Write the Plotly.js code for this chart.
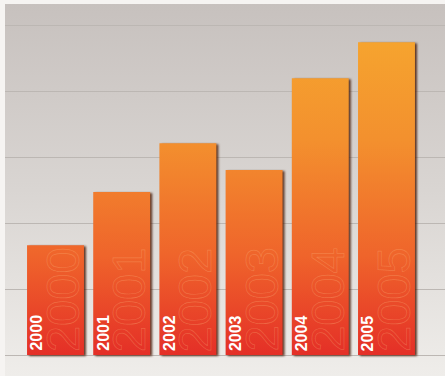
<!DOCTYPE html>
<html>
<head>
<meta charset="utf-8">
<script src="https://cdn.plot.ly/plotly-3.0.1.min.js"></script>
<style>
html,body{margin:0;padding:0;background:#f6f4f2;}
#chart{width:445px;height:376px;}
</style>
</head>
<body>
<div id="chart"></div>
<script>
var years = ["2000", "2001", "2002", "2003", "2004", "2005"];
var values = [33.3, 49.4, 64.2, 56.1, 83.9, 94.8];
var yTicks = [0, 20, 40, 60, 80, 100];

var xIdx = years.map(function(_, i){ return i; });

var trace = {
  type: "bar",
  x: xIdx,
  y: values,
  width: 0.86,
  marker: {color: "#ee6a2c", line: {width: 0}},
  hoverinfo: "none"
};

var annotations = [];
years.forEach(function(yr, i){
  annotations.push({
    x: i, y: 0, xref: "x", yref: "y",
    text: yr, showarrow: false, textangle: -90,
    xanchor: "center", yanchor: "bottom",
    xshift: 7, yshift: 1,
    font: {family: "Liberation Sans, Arial, sans-serif", size: 47, color: "rgba(255,190,120,0.28)"}
  });
  annotations.push({
    x: i, y: 0, xref: "x", yref: "y",
    text: "<b>" + yr + "</b>", showarrow: false, textangle: -90,
    xanchor: "center", yanchor: "bottom",
    xshift: -19, yshift: 2,
    font: {family: "Liberation Sans, Arial, sans-serif", size: 16, color: "#ffffff"}
  });
});

var layout = {
  width: 445, height: 376,
  margin: {l: 5, r: 0, t: 4, b: 0, pad: 0},
  paper_bgcolor: "#f6f4f2",
  plot_bgcolor: "#dcd8d5",
  showlegend: false,
  xaxis: {range: [-0.763, 5.884], showgrid: false, zeroline: false, showticklabels: false, ticks: "", fixedrange: true},
  yaxis: {range: [-6.36, 106.4], tickvals: yTicks, showgrid: true, gridcolor: "#bcb7b3", gridwidth: 1,
          zeroline: false, showticklabels: false, ticks: "", fixedrange: true},
  annotations: annotations
};

Plotly.newPlot("chart", [trace], layout, {displayModeBar: false, staticPlot: true}).then(function(gd){
  var svg = gd.querySelector("svg.main-svg");
  var ns = "http://www.w3.org/2000/svg";
  var defs = svg.querySelector("defs") || svg.insertBefore(document.createElementNS(ns, "defs"), svg.firstChild);
  var ya = gd._fullLayout.yaxis;
  var yTop = ya.l2p(yTicks[yTicks.length - 1]);
  var yBase = ya.l2p(0);
  function grad(id, stops, user){
    var g = document.createElementNS(ns, "linearGradient");
    g.setAttribute("id", id);
    if (user) {
      g.setAttribute("gradientUnits", "userSpaceOnUse");
      g.setAttribute("x1", "0"); g.setAttribute("y1", String(yTop));
      g.setAttribute("x2", "0"); g.setAttribute("y2", String(yBase));
    } else {
      g.setAttribute("x1", "0"); g.setAttribute("y1", "0");
      g.setAttribute("x2", "0"); g.setAttribute("y2", "1");
    }
    stops.forEach(function(s){
      var st = document.createElementNS(ns, "stop");
      st.setAttribute("offset", s[0]);
      st.setAttribute("stop-color", s[1]);
      g.appendChild(st);
    });
    defs.appendChild(g);
  }
  grad("barGrad", [["0", "#f6a72f"], ["0.35", "#f3902e"], ["0.7", "#ef642b"], ["1", "#e42f27"]], true);
  grad("bgGrad", [["0", "#c7c1be"], ["0.5", "#d9d5d2"], ["1", "#efedea"]], false);
  var bg = svg.querySelector(".bglayer rect.bg");
  if (bg) bg.style.fill = "url(#bgGrad)";
  gd.querySelectorAll(".bars .point path").forEach(function(p){
    p.style.fill = "url(#barGrad)";
    p.style.filter = "drop-shadow(2.5px 1.5px 0.8px rgba(70,25,5,0.85))";
  });
  gd.querySelectorAll(".annotation-text").forEach(function(t){
    var fs = parseFloat(t.style.fontSize || "0");
    if (fs > 30) {
      t.style.fill = "rgba(255,200,140,0.04)";
      t.style.stroke = "rgba(255,200,140,0.28)";
      t.style.strokeWidth = "0.7px";
    }
  });
});
</script>
</body>
</html>
